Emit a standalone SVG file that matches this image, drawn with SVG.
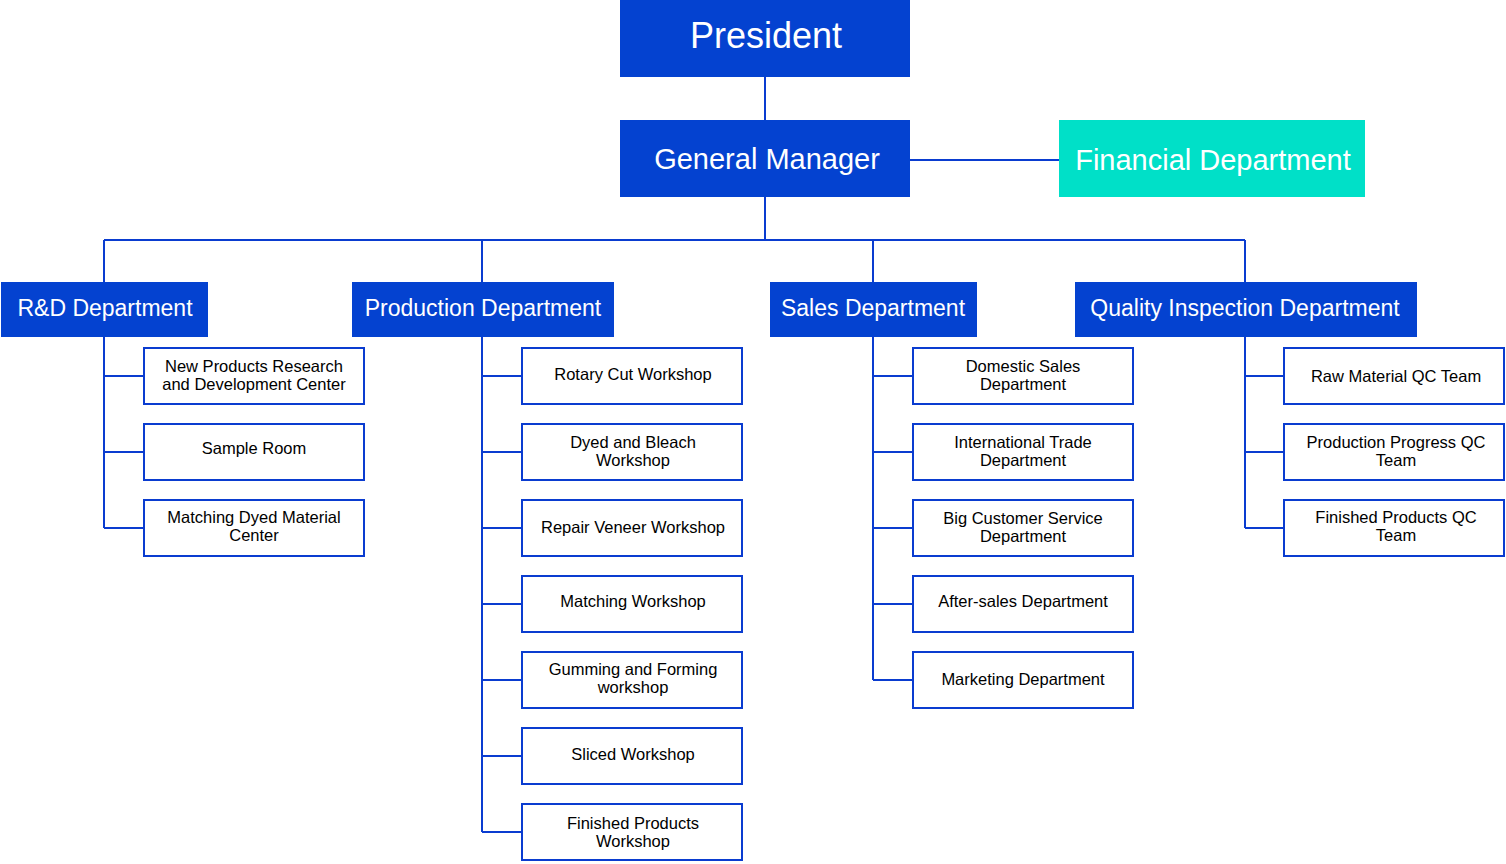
<svg xmlns="http://www.w3.org/2000/svg" width="1506" height="864" viewBox="0 0 1506 864">
<style>
.top{fill:#0442D0}
.fin{fill:#00E0C8}
.t{font-family:"Liberation Sans",Arial,sans-serif;fill:#fff;text-anchor:middle;dominant-baseline:central}
.sub rect{fill:#fff;stroke:#0A3CD0;stroke-width:2}
.sub text{font-family:"Liberation Sans",Arial,sans-serif;font-size:16.5px;fill:#000;text-anchor:middle}
.c{stroke:#0A3CD0;stroke-width:2;fill:none}
</style>
<rect width="1506" height="864" fill="#fff"/>
<g id="connectors" class="c">
<path d="M765 77V120M765 197V240M910 160H1059M104 240H1245M104 240V282M482 240V282M873 240V282M1245 240V282"/>
<path d="M104 337V528M104 376H144M104 452H144M104 528H144"/>
<path d="M482 337V832M482 376H522M482 452H522M482 528H522M482 604H522M482 680H522M482 756H522M482 832H522"/>
<path d="M873 337V680M873 376H913M873 452H913M873 528H913M873 604H913M873 680H913"/>
<path d="M1245 337V528M1245 376H1284M1245 452H1284M1245 528H1284"/>
</g>
<g id="president"><rect class="top" x="620" y="0" width="290" height="77"/><text class="t" x="766" y="35" font-size="36">President</text></g>
<g id="gm"><rect class="top" x="620" y="120" width="290" height="77"/><text class="t" x="767" y="159" font-size="29">General Manager</text></g>
<g id="fin"><rect class="fin" x="1059" y="120" width="306" height="77"/><text class="t" x="1213" y="160" font-size="29">Financial Department</text></g>
<g id="rd"><rect class="top" x="1" y="282" width="207" height="55"/><text class="t" x="105" y="308" font-size="23">R&amp;D Department</text></g>
<g id="prod"><rect class="top" x="352" y="282" width="262" height="55"/><text class="t" x="483" y="308" font-size="23">Production Department</text></g>
<g id="sales"><rect class="top" x="770" y="282" width="207" height="55"/><text class="t" x="873" y="308" font-size="23">Sales Department</text></g>
<g id="qi"><rect class="top" x="1075" y="282" width="342" height="55"/><text class="t" x="1245" y="308" font-size="23">Quality Inspection Department</text></g>
<g class="sub">
<g id="rd1"><rect x="144" y="348" width="220" height="56"/><text x="254" y="372">New Products Research</text><text x="254" y="390">and Development Center</text></g>
<g id="rd2"><rect x="144" y="424" width="220" height="56"/><text x="254" y="454">Sample Room</text></g>
<g id="rd3"><rect x="144" y="500" width="220" height="56"/><text x="254" y="523">Matching Dyed Material</text><text x="254" y="541">Center</text></g>
<g id="p1"><rect x="522" y="348" width="220" height="56"/><text x="633" y="380">Rotary Cut Workshop</text></g>
<g id="p2"><rect x="522" y="424" width="220" height="56"/><text x="633" y="448">Dyed and Bleach</text><text x="633" y="466">Workshop</text></g>
<g id="p3"><rect x="522" y="500" width="220" height="56"/><text x="633" y="533">Repair Veneer Workshop</text></g>
<g id="p4"><rect x="522" y="576" width="220" height="56"/><text x="633" y="607">Matching Workshop</text></g>
<g id="p5"><rect x="522" y="652" width="220" height="56"/><text x="633" y="675">Gumming and Forming</text><text x="633" y="693">workshop</text></g>
<g id="p6"><rect x="522" y="728" width="220" height="56"/><text x="633" y="760">Sliced  Workshop</text></g>
<g id="p7"><rect x="522" y="804" width="220" height="56"/><text x="633" y="829">Finished Products</text><text x="633" y="847">Workshop</text></g>
<g id="s1"><rect x="913" y="348" width="220" height="56"/><text x="1023" y="372">Domestic Sales</text><text x="1023" y="390">Department</text></g>
<g id="s2"><rect x="913" y="424" width="220" height="56"/><text x="1023" y="448">International Trade</text><text x="1023" y="466">Department</text></g>
<g id="s3"><rect x="913" y="500" width="220" height="56"/><text x="1023" y="524">Big Customer Service</text><text x="1023" y="542">Department</text></g>
<g id="s4"><rect x="913" y="576" width="220" height="56"/><text x="1023" y="607">After-sales Department</text></g>
<g id="s5"><rect x="913" y="652" width="220" height="56"/><text x="1023" y="685">Marketing Department</text></g>
<g id="q1"><rect x="1284" y="348" width="220" height="56"/><text x="1396" y="382">Raw Material QC Team</text></g>
<g id="q2"><rect x="1284" y="424" width="220" height="56"/><text x="1396" y="448">Production Progress QC</text><text x="1396" y="466">Team</text></g>
<g id="q3"><rect x="1284" y="500" width="220" height="56"/><text x="1396" y="523">Finished Products QC</text><text x="1396" y="541">Team</text></g>
</g>
</svg>
